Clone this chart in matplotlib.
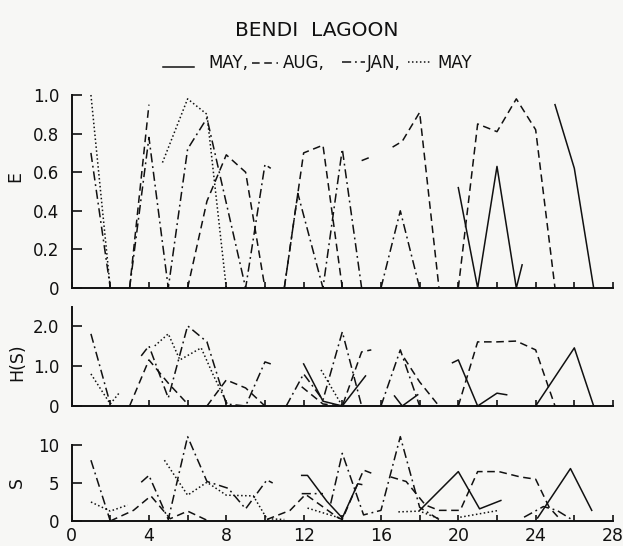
import numpy as np
import matplotlib.pyplot as plt
from matplotlib.lines import Line2D

nan = np.nan

# station numbers (x) and values (y) per series; nan breaks a line
# --- E (evenness)
e_may1_x = [20, 21, 22, 23, 23.3, nan, 25, 26, 27]
e_may1_y = [0.52, 0, 0.63, 0, 0.12, nan, 0.95, 0.62, 0]
e_aug_x = [3, 4, nan, 6, 7, 8, 9, 10, nan, 11, 12, 13, 14, nan, 15, 15.5, nan,
           16.6, 17.1, 18, 19, nan, 20, 21, 22, 23, 24, 25]
e_aug_y = [0, 0.95, nan, 0, 0.45, 0.69, 0.6, 0, nan, 0, 0.70, 0.74, 0, nan, 0.66, 0.68, nan,
           0.73, 0.76, 0.91, 0, nan, 0, 0.85, 0.81, 0.98, 0.82, 0]
e_jan_x = [1, 2, nan, 3, 4, 5, 6, 7, 9, 10, 10.3, nan, 11, 11.7, 13, 14, 15, nan, 16, 17, 18]
e_jan_y = [0.7, 0, nan, 0, 0.78, 0, 0.72, 0.88, 0, 0.64, 0.62, nan, 0, 0.49, 0, 0.72, 0, nan, 0, 0.40, 0]
e_may2_x = [1, 2, nan, 4.7, 6, 7, 8]
e_may2_y = [1.0, 0, nan, 0.65, 0.98, 0.9, 0]

# --- H(S) (diversity)
h_may1_x = [12, 13, 14, 15.2, nan, 16.7, 17.1, 17.9, nan, 19.7, 20, 21, 22, 22.5, nan, 24, 26, 27]
h_may1_y = [1.05, 0.12, 0, 0.75, nan, 0.25, 0, 0.28, nan, 1.08, 1.15, 0, 0.32, 0.28, nan, 0, 1.45, 0]
h_aug_x = [3, 4, 5, 6, nan, 7, 8, 9, 10, nan, 11.9, 13, 14, 15, 15.5, nan,
           17.2, 18, 19, nan, 20, 21, 22, 23, 24, 25]
h_aug_y = [0, 1.15, 0.57, 0.05, nan, 0, 0.65, 0.45, 0, nan, 0.48, 0.05, 0, 1.35, 1.4, nan,
           1.2, 0.6, 0, nan, 0, 1.6, 1.6, 1.62, 1.4, 0]
h_jan_x = [1, 2, nan, 3.6, 4, 5, 6, 7, 8, 9, 10, 10.3, nan, 11.1, 12, 13, 14, 15, nan, 16, 17, 18]
h_jan_y = [1.8, 0.05, nan, 1.25, 1.5, 0.2, 2.0, 1.6, 0.05, 0, 1.1, 1.05, nan, 0, 0.8, 0.15, 1.85, 0, nan, 0, 1.4, 0]
h_may2_x = [1, 2, 2.5, nan, 4.3, 5, 5.6, 6.7, 7.3, 8.1, nan, 12.9, 14]
h_may2_y = [0.8, 0.05, 0.35, nan, 1.5, 1.8, 1.15, 1.45, 0.8, 0, nan, 0.9, 0]

# --- S (species number)
s_may1_x = [11.9, 12.2, 13.2, 14, 14.8, 15, nan, 18, 20, 21.1, 22.2, nan, 24.1, 25.8, 26.9]
s_may1_y = [6.0, 6.0, 2.6, 0.4, 4.9, 4.8, nan, 1.4, 6.5, 1.6, 2.7, nan, 0.4, 6.9, 1.4]
s_aug_x = [2, 3.2, 4.1, 5.1, 6, 7, nan, 10.1, 11.3, 12.1, 13.8, 14, 15.1, 15.5, nan,
           16.5, 17.3, 18.3, 19, 20.1, 21, 22.1, 23.2, 24, 24.7, 25.2]
s_aug_y = [0, 1.4, 3.3, 0.3, 1.3, 0.1, nan, 0.2, 1.4, 3.5, 0.4, 0.2, 6.7, 6.3, nan,
           5.8, 5.2, 2.1, 1.4, 1.4, 6.5, 6.5, 5.8, 5.5, 1.8, 0.4]
s_jan_x = [1, 2, nan, 3.6, 4, 5, 6, 7, 8.1, 9, 10.1, 10.4, nan, 11.9, 13, nan,
           13.4, 14, 15.1, 16, 17, 18, 19, nan, 23.4, 24.4, 25.1, 25.8]
s_jan_y = [8, 0, nan, 5.1, 6.0, 0.2, 11.1, 5.2, 4.3, 1.6, 5.4, 5.0, nan, 3.6, 3.6, nan,
           2.3, 8.9, 0.8, 1.4, 11.1, 1.8, 0.2, nan, 0.5, 1.9, 1.4, 0.3]
s_may2_x = [1, 2, 2.9, nan, 4.8, 6, 7, 8, 9.4, 10.1, 11, nan, 12.2, 14, nan, 16.9, 18, 19, nan, 20.1, 22.1]
s_may2_y = [2.5, 1.3, 2.1, nan, 8.0, 3.4, 5.1, 3.4, 3.3, 0.3, 0.2, nan, 1.7, 0.3, nan, 1.2, 1.3, 0.3, nan, 0.5, 1.4]

styles = {
    'may1': '-',
    'aug': (0, (5, 3)),
    'jan': (0, (6, 2.5, 1.2, 2.5)),
    'may2': (0, (1, 1.6)),
}

panels = [
    dict(series={'may1': (e_may1_x, e_may1_y), 'aug': (e_aug_x, e_aug_y),
                 'jan': (e_jan_x, e_jan_y), 'may2': (e_may2_x, e_may2_y)},
         ylim=1.0, yticks=[0, 0.2, 0.4, 0.6, 0.8, 1.0],
         ylabels=['0', '0.2', '0.4', '0.6', '0.8', '1.0'],
         pos=(95, 288), name='E', name_xy=(15, 177)),
    dict(series={'may1': (h_may1_x, h_may1_y), 'aug': (h_aug_x, h_aug_y),
                 'jan': (h_jan_x, h_jan_y), 'may2': (h_may2_x, h_may2_y)},
         ylim=2.47, yticks=[0, 1, 2], ylabels=['0', '1.0', '2.0'],
         pos=(307, 406), name='H(S)', name_xy=(17, 362)),
    dict(series={'may1': (s_may1_x, s_may1_y), 'aug': (s_aug_x, s_aug_y),
                 'jan': (s_jan_x, s_jan_y), 'may2': (s_may2_x, s_may2_y)},
         ylim=10, yticks=[0, 5, 10], ylabels=['0', '5', '10'],
         pos=(445, 521), name='S', name_xy=(17, 482)),
]

W, H = 623, 546
bg = '#f7f7f5'
fig = plt.figure(figsize=(W / 100, H / 100), dpi=100, facecolor=bg)

x0, x1 = 71.6, 613
xt = np.arange(0, 29, 2)
for i, p in enumerate(panels):
    top, bot = p['pos']
    ax = fig.add_axes([x0 / W, 1 - bot / H, (x1 - x0) / W, (bot - top) / H])
    ax.set_facecolor(bg)
    for key, (xs, ys) in p['series'].items():
        ax.plot(np.array(xs, float), np.array(ys, float), color='#111111',
                lw=1.1, ls=styles[key], clip_on=False)
    ax.set_xlim(0, 28)
    ax.set_ylim(0, p['ylim'])
    ax.spines[['top', 'right']].set_visible(False)
    for s in ['left', 'bottom']:
        ax.spines[s].set_linewidth(1.4)
        ax.spines[s].set_color('#111111')
    ax.set_yticks(p['yticks'])
    ax.set_yticklabels(p['ylabels'])
    ax.set_xticks(xt)
    if i == 2:
        ax.set_xticklabels([str(v) if v % 4 == 0 else '' for v in xt])
    else:
        ax.set_xticklabels([])
    ax.tick_params(axis='y', direction='in', length=7, width=1.2, pad=9,
                   labelsize=12, colors='#111111')
    ax.tick_params(axis='x', direction='in', length=4, width=1.2, pad=4,
                   labelsize=12.5, colors='#111111')
    nx, ny = p['name_xy']
    fig.text(nx / W, 1 - ny / H, p['name'], rotation=90, ha='center', va='center',
             fontsize=12.5, color='#111111')

fig.text(317 / W, 1 - 30 / H, 'BENDI  LAGOON', ha='center', va='center',
         fontsize=14.5, color='#111111')


def fx(v):
    return v / W


def fy(v):
    return 1 - v / H


leg = [
    (163, 194, 67, 'may1', 208, 'MAY,'),
    (252, 278, 63, 'aug', 283, 'AUG,'),
    (342, 365, 62, 'jan', 367, 'JAN,'),
    (408, 430, 62, 'may2', 437, 'MAY'),
]
for a, b, yy, key, tx, lab in leg:
    fig.add_artist(Line2D([fx(a), fx(b)], [fy(yy), fy(yy)], color='#111111',
                          lw=1.1, ls=styles[key]))
    fig.text(fx(tx), fy(63), lab, ha='left', va='center', fontsize=12,
             color='#111111')

fig.savefig('out.png', dpi=100, facecolor=bg)
